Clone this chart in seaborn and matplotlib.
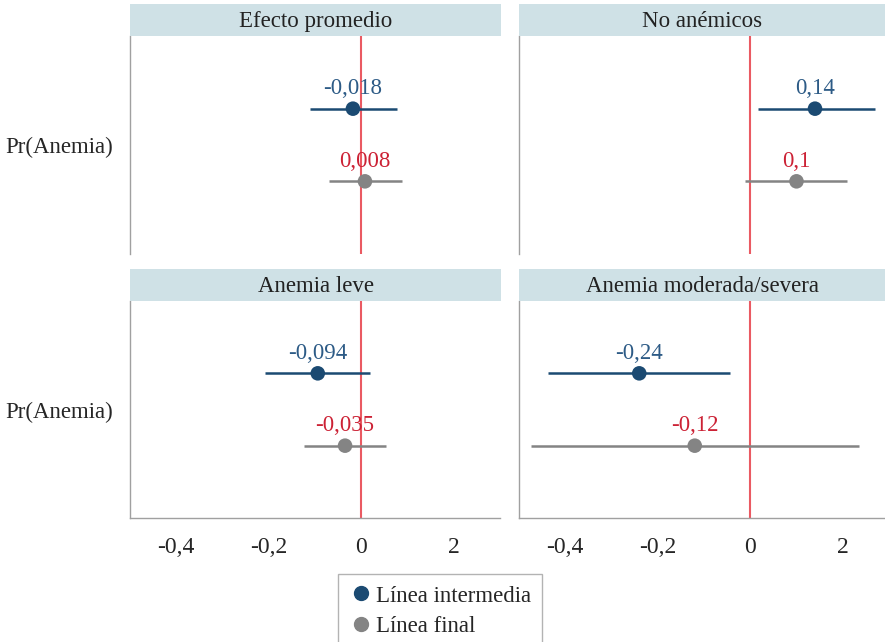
import matplotlib
matplotlib.use("Agg")
import matplotlib.pyplot as plt
from matplotlib.lines import Line2D
import seaborn as sns
import pandas as pd

# ---- data ----
panels = ["Efecto promedio", "No anémicos", "Anemia leve", "Anemia moderada/severa"]
series = ["Línea intermedia", "Línea final"]
est_intermedia = [-0.018, 0.14, -0.094, -0.24]
lo_intermedia = [-0.111, 0.016, -0.208, -0.437]
hi_intermedia = [0.077, 0.270, 0.018, -0.044]
lab_intermedia = ["-0,018", "0,14", "-0,094", "-0,24"]
est_final = [0.008, 0.10, -0.035, -0.12]
lo_final = [-0.070, -0.011, -0.124, -0.474]
hi_final = [0.088, 0.209, 0.054, 0.235]
lab_final = ["0,008", "0,1", "-0,035", "-0,12"]
xtick_vals = [-0.4, -0.2, 0.0, 0.2]
xtick_labels = ["-0,4", "-0,2", "0", "2"]
ytick_label = "Pr(Anemia)"

rows = []
for i, p in enumerate(panels):
    rows.append(dict(panel=p, serie=series[0], est=est_intermedia[i], lo=lo_intermedia[i],
                     hi=hi_intermedia[i], lab=lab_intermedia[i], ypos=0.5))
    rows.append(dict(panel=p, serie=series[1], est=est_final[i], lo=lo_final[i],
                     hi=hi_final[i], lab=lab_final[i], ypos=-0.5))
df = pd.DataFrame(rows)

# ---- style ----
sns.set_theme(style="white")
plt.rcParams["font.family"] = ["Liberation Serif", "DejaVu Serif"]

C_INT = "#1b4a72"
C_FIN = "#848484"
C_LAB_INT = "#2d5b86"
C_LAB_FIN = "#cc2235"
C_ZERO = "#ea5a62"
C_SPINE = "#a0a0a0"
C_STRIP = "#cfe1e6"
palette = {series[0]: C_INT, series[1]: C_FIN}
labcol = {series[0]: C_LAB_INT, series[1]: C_LAB_FIN}

W, H = 885, 642
fig = plt.figure(figsize=(W / 100, H / 100), dpi=100)

def fr(x0, y0, x1, y1):
    return [x0 / W, 1 - y1 / H, (x1 - x0) / W, (y1 - y0) / H]

cols_x = [(130, 500), (519, 889)]
rows_y = [(36, 254), (301, 518)]
strip_y = [(4, 36), (269, 301)]

for k, p in enumerate(panels):
    r, c = divmod(k, 2)
    x0, x1 = cols_x[c]
    y0, y1 = rows_y[r]
    ax = fig.add_axes(fr(x0, y0, x1, y1))
    sub = df[df.panel == p]
    ax.axvline(0, color=C_ZERO, lw=1.5, zorder=1)
    for _, row in sub.iterrows():
        ax.hlines(row.ypos, row.lo, row.hi, color=palette[row.serie], lw=1.8, zorder=2)
        ax.annotate(row.lab, (row.est, row.ypos), xytext=(0, 20), textcoords="offset pixels",
                    ha="center", va="center", fontsize=16.5, color=labcol[row.serie], zorder=4)
    sns.scatterplot(data=sub, x="est", y="ypos", hue="serie", palette=palette, s=110,
                    edgecolor="none", legend=False, ax=ax, zorder=3)
    ax.set_xlim(-0.5, 0.3)
    ax.set_ylim(-1.5, 1.5)
    ax.set_xlabel("")
    ax.set_ylabel("")
    ax.set_yticks([0])
    ax.set_yticklabels([ytick_label] if c == 0 else [""])
    ax.tick_params(axis="y", length=6, color=C_SPINE, width=1, labelsize=16.5, pad=6)
    for s in ["top", "right"]:
        ax.spines[s].set_visible(False)
    ax.spines["left"].set_color(C_SPINE)
    ax.spines["left"].set_linewidth(1)
    if r == 1:
        ax.set_xticks(xtick_vals)
        ax.set_xticklabels(xtick_labels)
        ax.tick_params(axis="x", length=6, color=C_SPINE, width=1, labelsize=17, pad=8)
        ax.spines["bottom"].set_color(C_SPINE)
        ax.spines["bottom"].set_linewidth(1)
    else:
        ax.set_xticks([])
        ax.spines["bottom"].set_visible(False)
    ax.set_facecolor("white")
    # strip
    sy0, sy1 = strip_y[r]
    sax = fig.add_axes(fr(x0, sy0, x1 + (1 if c == 0 else 0), sy1))
    sax.set_facecolor(C_STRIP)
    sax.set_xticks([]); sax.set_yticks([])
    for s in sax.spines.values():
        s.set_visible(False)
    sax.text(0.5 if c == 0 else (885 - 519) / 2 / 370, 0.45, p, ha="center", va="center",
             fontsize=16.5, color="#222222", transform=sax.transAxes)

handles = [Line2D([], [], marker="o", ls="", color=palette[s], markersize=10) for s in series]
leg = fig.legend(handles, series, loc="upper left", bbox_to_anchor=(338 / W, 1 - 574 / H),
                 frameon=True, fontsize=16.5, handletextpad=0.15, borderpad=0.5,
                 labelspacing=0.4, handlelength=1.0, fancybox=False, borderaxespad=0)
leg.get_frame().set_edgecolor(C_SPINE)
leg.get_frame().set_linewidth(1)

fig.savefig("out.png", dpi=100)
